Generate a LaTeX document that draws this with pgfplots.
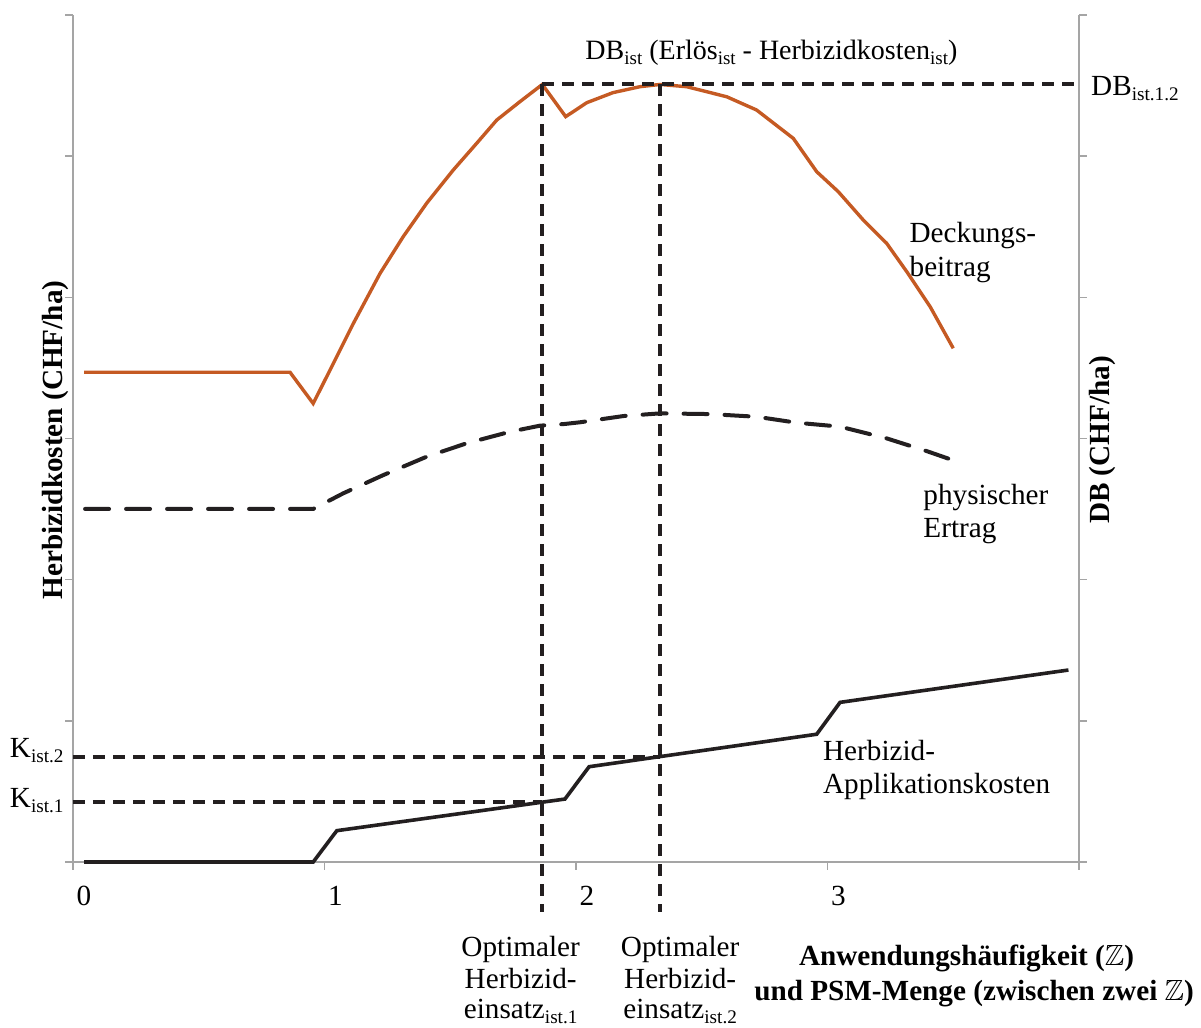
\documentclass[border=0pt]{standalone}
\usepackage{amssymb}
\usepackage{fontspec}
\setmainfont{Liberation Serif}
\usepackage{pgfplots}
\pgfplotsset{compat=1.18}

\definecolor{dborange}{RGB}{197,90,35}
\definecolor{ink}{HTML}{231F20}
\definecolor{axgray}{RGB}{165,165,165}

\newcommand{\lbl}{\fontsize{14.6}{17}\selectfont}
\newcommand{\ttl}{\fontsize{14}{16}\selectfont}
\newcommand{\sub}[1]{\raisebox{-2.5pt}{\fontsize{9.6}{9.6}\selectfont #1}}
\newcommand{\subt}[1]{\raisebox{-2.5pt}{\fontsize{9.5}{9.5}\selectfont #1}}

\begin{document}
\begin{tikzpicture}[lab/.style={inner sep=0pt, font=\lbl}]
\begin{axis}[
  scale only axis, width=503pt, height=423.5pt,
  xmin=0, xmax=4, ymin=0, ymax=6,
  axis x line*=bottom, axis y line*=box,
  axis line style={draw=axgray, line width=0.8pt, -},
  xtick={0,1,2,3,4}, xticklabels={0,1,2,3,{}},
  ytick={0,1,2,3,4,5,6}, yticklabels={},
  ytick pos=both,
  tick align=outside, major tick length=3.75pt,
  tick style={draw=axgray, line width=0.8pt},
  xticklabel style={font=\lbl, xshift=5.5pt, yshift=-5pt},
  clip=false,
]
\coordinate (bl) at (rel axis cs:0,0);
\coordinate (tr) at (rel axis cs:1,1);

% physischer Ertrag
\addplot[ink, no marks, line width=2pt, line cap=round, dash pattern=on 12pt off 8.5pt] coordinates {
 (0.048,2.501) (0.955,2.501) (1.075,2.612) (1.234,2.741) (1.406,2.871)
 (1.565,2.966) (1.738,3.048) (1.857,3.091) (1.956,3.103) (2.016,3.115)
 (2.188,3.159) (2.334,3.178) (2.533,3.173) (2.718,3.154) (2.877,3.112)
 (3.050,3.084) (3.235,3.001) (3.394,2.911) (3.507,2.841)};

% Deckungsbeitrag
\addplot[dborange, no marks, line width=1.7pt] coordinates {
 (0.044,3.469) (0.863,3.469) (0.955,3.248) (1.022,3.485) (1.115,3.816)
 (1.221,4.170) (1.313,4.430) (1.406,4.666) (1.512,4.902) (1.605,5.091)
 (1.685,5.256) (1.777,5.386) (1.866,5.508) (1.959,5.280) (2.043,5.379)
 (2.147,5.450) (2.254,5.492) (2.334,5.508) (2.440,5.492) (2.599,5.421)
 (2.718,5.327) (2.864,5.126) (2.957,4.890) (3.043,4.748) (3.142,4.548)
 (3.235,4.383) (3.315,4.182) (3.408,3.934) (3.500,3.639)};

% Herbizid-Applikationskosten
\addplot[ink, no marks, line width=1.8pt] coordinates {
 (0.044,0) (0.955,0) (1.049,0.222) (1.956,0.446) (2.052,0.675)
 (2.957,0.905) (3.050,1.131) (3.958,1.360)};

% Hilfslinien
\addplot[ink, no marks, line width=2pt, dash pattern=on 6pt off 4pt] coordinates {(0,0.742) (2.334,0.742)};
\addplot[ink, no marks, line width=2pt, dash pattern=on 6pt off 4pt] coordinates {(0,0.427) (1.866,0.427)};
\addplot[ink, no marks, line width=2pt, dash pattern=on 6pt off 4pt] coordinates {(1.866,5.508) (1.866,-0.352)};
\addplot[ink, no marks, line width=2pt, dash pattern=on 6pt off 4pt] coordinates {(2.334,5.508) (2.334,-0.352)};
\addplot[ink, no marks, line width=2pt, dash pattern=on 6pt off 4pt] coordinates {(1.866,5.508) (4,5.508)};

% Beschriftungen
\node[lab, font=\ttl, anchor=base] at (axis cs:2.777,5.686) {DB\subt{ist} (Erlös\subt{ist} - Herbizidkosten\subt{ist})};
\node[lab, anchor=base west] at (axis cs:4.047,5.433) {DB\sub{ist.1.2}};
\node[lab, anchor=base west] at (axis cs:3.325,4.387) {Deckungs-};
\node[lab, anchor=base west] at (axis cs:3.325,4.151) {beitrag};
\node[lab, anchor=base west] at (axis cs:3.380,2.536) {physischer};
\node[lab, anchor=base west] at (axis cs:3.380,2.299) {Ertrag};
\node[lab, anchor=base west] at (axis cs:2.981,0.7225) {Herbizid-};
\node[lab, anchor=base west] at (axis cs:2.981,0.4867) {Applikationskosten};
\node[lab, anchor=base east] at (axis cs:-0.036,0.741) {K\sub{ist.2}};
\node[lab, anchor=base east] at (axis cs:-0.036,0.387) {K\sub{ist.1}};

\node[lab, anchor=base] at (axis cs:1.780,-0.666) {Optimaler};
\node[lab, anchor=base] at (axis cs:1.780,-0.895) {Herbizid-};
\node[lab, anchor=base] at (axis cs:1.780,-1.112) {einsatz\sub{ist.1}};
\node[lab, anchor=base] at (axis cs:2.414,-0.666) {Optimaler};
\node[lab, anchor=base] at (axis cs:2.414,-0.895) {Herbizid-};
\node[lab, anchor=base] at (axis cs:2.414,-1.112) {einsatz\sub{ist.2}};

\node[lab, font=\lbl\bfseries, anchor=base] at (axis cs:3.553,-0.730) {Anwendungshäufigkeit ($\mathbb{Z}$)};
\node[lab, font=\lbl\bfseries, anchor=base] at (axis cs:3.583,-0.978) {und PSM-Menge (zwischen zwei $\mathbb{Z}$)};

\node[lab, font=\lbl\bfseries, rotate=90] at (axis cs:-0.0716,2.99) {Herbizidkosten (CHF/ha)};
\node[lab, font=\lbl\bfseries, rotate=90] at (axis cs:4.095,2.99) {DB (CHF/ha)};
\end{axis}
\pgfresetboundingbox
\path[use as bounding box] ([xshift=-36.5pt,yshift=-82.5pt]bl) rectangle ([xshift=61pt,yshift=7.5pt]tr);
\end{tikzpicture}
\end{document}
